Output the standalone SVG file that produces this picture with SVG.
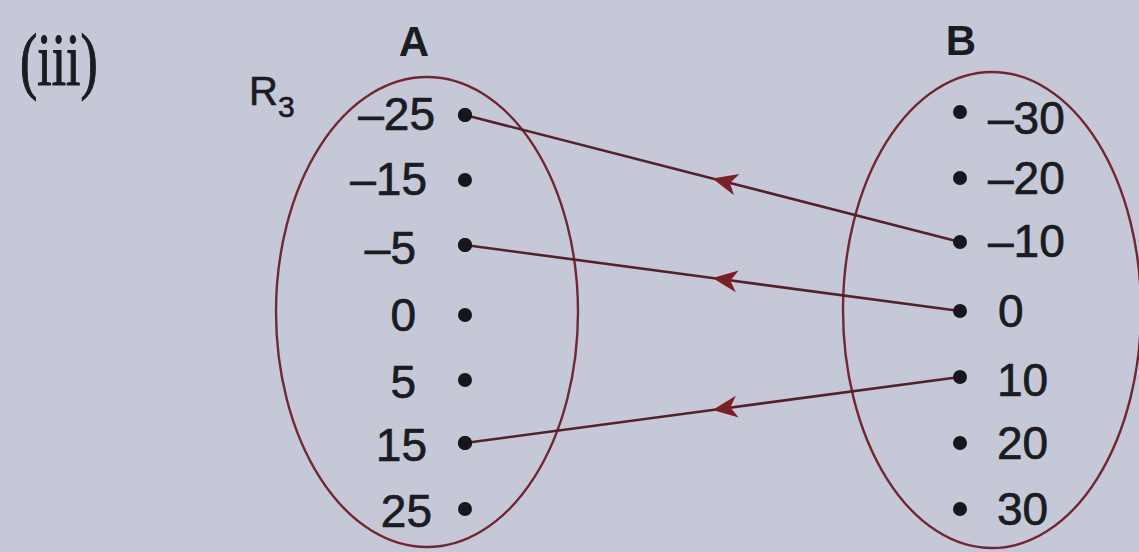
<svg xmlns="http://www.w3.org/2000/svg" width="1139" height="552" viewBox="0 0 1139 552">
<style>
.set{fill:none;stroke:#732632;stroke-width:2.4}
.dot{fill:#16161c}
.num{font-family:"Liberation Sans",Arial,sans-serif;font-size:46px;fill:#1b1b22;stroke:#1b1b22;stroke-width:0.7}
.hd{font-family:"Liberation Sans",Arial,sans-serif;font-size:42px;font-weight:bold;fill:#1b1b22;text-anchor:middle}
.end{text-anchor:end}
.lnk{fill:none;stroke:#55202a;stroke-width:2.6;marker-mid:url(#ah)}
</style>
<defs>
<marker id="ah" markerUnits="userSpaceOnUse" viewBox="-28 -14 30 28" markerWidth="30" markerHeight="28" refX="0" refY="0" orient="auto">
<path d="M0,0 L-25,-11 L-18,0 L-25,11 Z" fill="#7b1f24"/>
</marker>
</defs>
<rect x="0" y="0" width="1139" height="552" fill="#c5c9d7"/>
<g id="label-iii">
<text transform="translate(20,85) scale(0.7,1)" style="font-family:'Liberation Serif','Times New Roman',serif;font-size:74px;fill:#1b1b22;stroke:#1b1b22;stroke-width:1.2">(iii)</text>
</g>
<g id="label-R3">
<text x="249" y="105" style="font-family:'Liberation Sans',Arial,sans-serif;font-size:40px;fill:#1b1b22;stroke:#1b1b22;stroke-width:0.6">R<tspan dy="12" style="font-size:30px">3</tspan></text>
</g>
<g id="set-A">
<text class="hd" x="414" y="56">A</text>
<ellipse class="set" cx="427" cy="312" rx="151" ry="235"/>
<g id="a-m25"><text class="num end" x="435" y="130">–25</text><circle class="dot" cx="465" cy="115" r="7"/></g>
<g id="a-m15"><text class="num end" x="427" y="195">–15</text><circle class="dot" cx="465" cy="180" r="7"/></g>
<g id="a-m5"><text class="num end" x="416" y="264">–5</text><circle class="dot" cx="465" cy="245" r="7"/></g>
<g id="a-0"><text class="num end" x="416" y="331">0</text><circle class="dot" cx="465" cy="315" r="7"/></g>
<g id="a-5"><text class="num end" x="416" y="398">5</text><circle class="dot" cx="465" cy="380" r="7"/></g>
<g id="a-15"><text class="num end" x="427" y="461">15</text><circle class="dot" cx="465" cy="443" r="7"/></g>
<g id="a-25"><text class="num end" x="432" y="527">25</text><circle class="dot" cx="465" cy="509" r="7"/></g>
</g>
<g id="set-B">
<text class="hd" x="961" y="55">B</text>
<ellipse class="set" cx="992" cy="310" rx="149" ry="238"/>
</g>
<g id="connectors">
<path class="lnk" d="M960,242 L712.5,178.5 L465,115"/>
<path class="lnk" d="M960,311 L712.5,278 L465,245"/>
<path class="lnk" d="M960,377 L712.5,410 L465,443"/>
</g>
<g id="B-elements">
<g id="b-m30"><circle class="dot" cx="960" cy="112" r="7"/><text class="num" x="988" y="134">–30</text></g>
<g id="b-m20"><circle class="dot" cx="960" cy="178" r="7"/><text class="num" x="988" y="194">–20</text></g>
<g id="b-m10"><circle class="dot" cx="960" cy="242" r="7"/><text class="num" x="988" y="257">–10</text></g>
<g id="b-0"><circle class="dot" cx="960" cy="311" r="7"/><text class="num" x="998" y="327">0</text></g>
<g id="b-10"><circle class="dot" cx="960" cy="377" r="7"/><text class="num" x="997" y="396">10</text></g>
<g id="b-20"><circle class="dot" cx="960" cy="443" r="7"/><text class="num" x="997" y="459">20</text></g>
<g id="b-30"><circle class="dot" cx="960" cy="509" r="7"/><text class="num" x="997" y="525">30</text></g>
</g>
<g id="A-dots-top">
<circle class="dot" cx="465" cy="115" r="7"/>
<circle class="dot" cx="465" cy="245" r="7"/>
<circle class="dot" cx="465" cy="443" r="7"/>
</g>
</svg>
